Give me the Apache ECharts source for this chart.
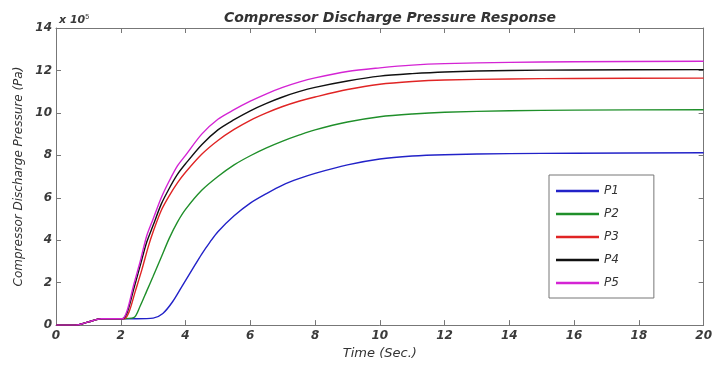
<!DOCTYPE html>
<html>
<head>
<meta charset="utf-8">
<script src="https://cdn.jsdelivr.net/npm/echarts@6/dist/echarts.min.js"></script>
<style>
  html, body { margin: 0; padding: 0; background: #fff; }
  #chart { width: 715px; height: 365px; }
</style>
</head>
<body>
<div id="chart"></div>
<script>
// pressure in units of 1e5 Pa, time in seconds
const startPart = [[0, 0], [0.6, 0], [1.0, 0.15], [1.4, 0.3], [2.0, 0.3]]

const p1 = [[2.5, 0.3], [3.0, 0.33], [3.3, 0.55], [3.6, 1.1], [3.9, 1.85], [4.2, 2.6], [4.5, 3.35],
  [4.75, 3.9], [5.0, 4.4], [5.5, 5.15], [6.0, 5.75], [6.5, 6.2], [7.0, 6.6], [7.5, 6.9], [8, 7.15],
  [9, 7.55], [10, 7.83], [11, 7.97], [12, 8.03], [14, 8.08], [16, 8.1], [20, 8.12]]

const p2 = [[2.4, 0.35], [2.6, 0.9], [2.8, 1.6], [3.0, 2.3], [3.25, 3.2], [3.5, 4.1], [3.75, 4.85],
  [4.0, 5.45], [4.5, 6.35], [5.0, 7.0], [5.5, 7.55], [6.0, 7.98], [6.5, 8.35], [7.0, 8.67], [7.5, 8.95],
  [8, 9.2], [9, 9.57], [10, 9.82], [11, 9.95], [12, 10.03], [14, 10.1], [16, 10.13], [20, 10.15]]

const p3 = [[2.1, 0.3], [2.25, 0.6], [2.45, 1.6], [2.65, 2.6], [2.85, 3.7], [3.0, 4.4], [3.25, 5.4],
  [3.5, 6.1], [3.75, 6.7], [4.0, 7.2], [4.5, 8.05], [5.0, 8.7], [5.5, 9.22], [6.0, 9.65], [6.5, 10.0],
  [7.0, 10.3], [7.5, 10.55], [8, 10.75], [9, 11.1], [10, 11.35], [11, 11.48], [12, 11.55], [14, 11.6],
  [16, 11.62], [20, 11.64]]

const p4 = [[2.05, 0.3], [2.2, 0.6], [2.4, 1.7], [2.6, 2.8], [2.8, 3.9], [3.0, 4.7], [3.25, 5.7],
  [3.5, 6.45], [3.75, 7.1], [4.0, 7.6], [4.5, 8.5], [5.0, 9.2], [5.5, 9.68], [6.0, 10.1], [6.5, 10.45],
  [7.0, 10.75], [7.5, 11.0], [8, 11.2], [9, 11.5], [10, 11.73], [11, 11.85], [12, 11.93], [14, 12.0],
  [16, 12.02], [20, 12.04]]

const p5 = [[2.05, 0.3], [2.2, 0.7], [2.4, 1.9], [2.6, 3.0], [2.8, 4.2], [3.0, 5.0], [3.25, 6.0],
  [3.5, 6.8], [3.75, 7.5], [4.0, 8.0], [4.5, 9.0], [5.0, 9.7], [5.5, 10.15], [6.0, 10.55], [6.5, 10.9],
  [7.0, 11.2], [7.5, 11.45], [8, 11.65], [9, 11.95], [10, 12.12], [11, 12.25], [12, 12.32], [14, 12.38],
  [16, 12.41], [20, 12.43]]

const names = ['P1', 'P2', 'P3', 'P4', 'P5']
const colors = ['#2222c8', '#1f8f2a', '#e02424', '#111111', '#d424d4']
const curves = [p1, p2, p3, p4, p5]

const font = 'DejaVu Sans'
const frameColor = '#777777'

const chart = echarts.init(document.getElementById('chart'))

function axisBase(show) {
  return {
    min: 0,
    axisLine: { show: true, onZero: false, lineStyle: { color: frameColor, width: 1 } },
    axisTick: { show: true, inside: true, length: 5, lineStyle: { color: frameColor } },
    splitLine: { show: false },
    axisLabel: {
      show: show, fontFamily: font, fontStyle: 'italic', fontWeight: 'bold',
      fontSize: 12, color: '#3a3a3a'
    }
  }
}

var xBottom = Object.assign(axisBase(true), {
  type: 'value', position: 'bottom', max: 20, interval: 2,
  name: 'Time (Sec.)', nameLocation: 'middle', nameGap: 19,
  nameTextStyle: { fontFamily: font, fontStyle: 'italic', fontSize: 13, color: '#333' }
})
xBottom.axisLabel.margin = 5
var xTop = Object.assign(axisBase(false), { type: 'value', position: 'top', max: 20, interval: 2 })

var yLeft = Object.assign(axisBase(true), {
  type: 'value', position: 'left', max: 14, interval: 2,
  name: 'Compressor Discharge Pressure (Pa)', nameLocation: 'middle', nameGap: 31,
  nameTextStyle: { fontFamily: font, fontStyle: 'italic', fontSize: 12, color: '#333' }
})
yLeft.axisLabel.margin = 4
var yRight = Object.assign(axisBase(false), { type: 'value', position: 'right', max: 14, interval: 2 })

var option = {
  backgroundColor: '#ffffff',
  animation: false,
  title: {
    text: 'Compressor Discharge Pressure Response',
    left: 385, top: 6, textAlign: 'center',
    textStyle: { fontFamily: font, fontStyle: 'italic', fontWeight: 'bold', fontSize: 14, color: '#333' }
  },
  grid: { left: 56, right: 7, top: 28, bottom: 33 },
  xAxis: [xBottom, xTop],
  yAxis: [yLeft, yRight],
  legend: {
    orient: 'vertical',
    left: 549, top: 175,
    padding: [10, 35, 9, 7],
    icon: 'rect',
    itemWidth: 43, itemHeight: 2.5, itemGap: 11,
    backgroundColor: '#fff',
    borderColor: frameColor, borderWidth: 1,
    textStyle: { fontFamily: font, fontStyle: 'italic', fontSize: 12, color: '#333' },
    data: names
  },
  graphic: [{
    type: 'text', left: 59, top: 14,
    style: {
      text: 'x 10{s|5}', fontFamily: font, fontStyle: 'italic', fontWeight: 'bold',
      fontSize: 11, fill: '#3a3a3a',
      rich: { s: { fontSize: 7, verticalAlign: 'top', padding: [0, 0, 6, 0] } }
    }
  }],
  series: curves.map(function (c, i) {
    return {
      name: names[i],
      type: 'line',
      data: startPart.concat(c),
      symbol: 'none',
      smooth: 0.3,
      color: colors[i],
      lineStyle: { width: 1.4, color: colors[i] },
      z: 2 + i
    }
  })
}

chart.setOption(option)
</script>
</body>
</html>
